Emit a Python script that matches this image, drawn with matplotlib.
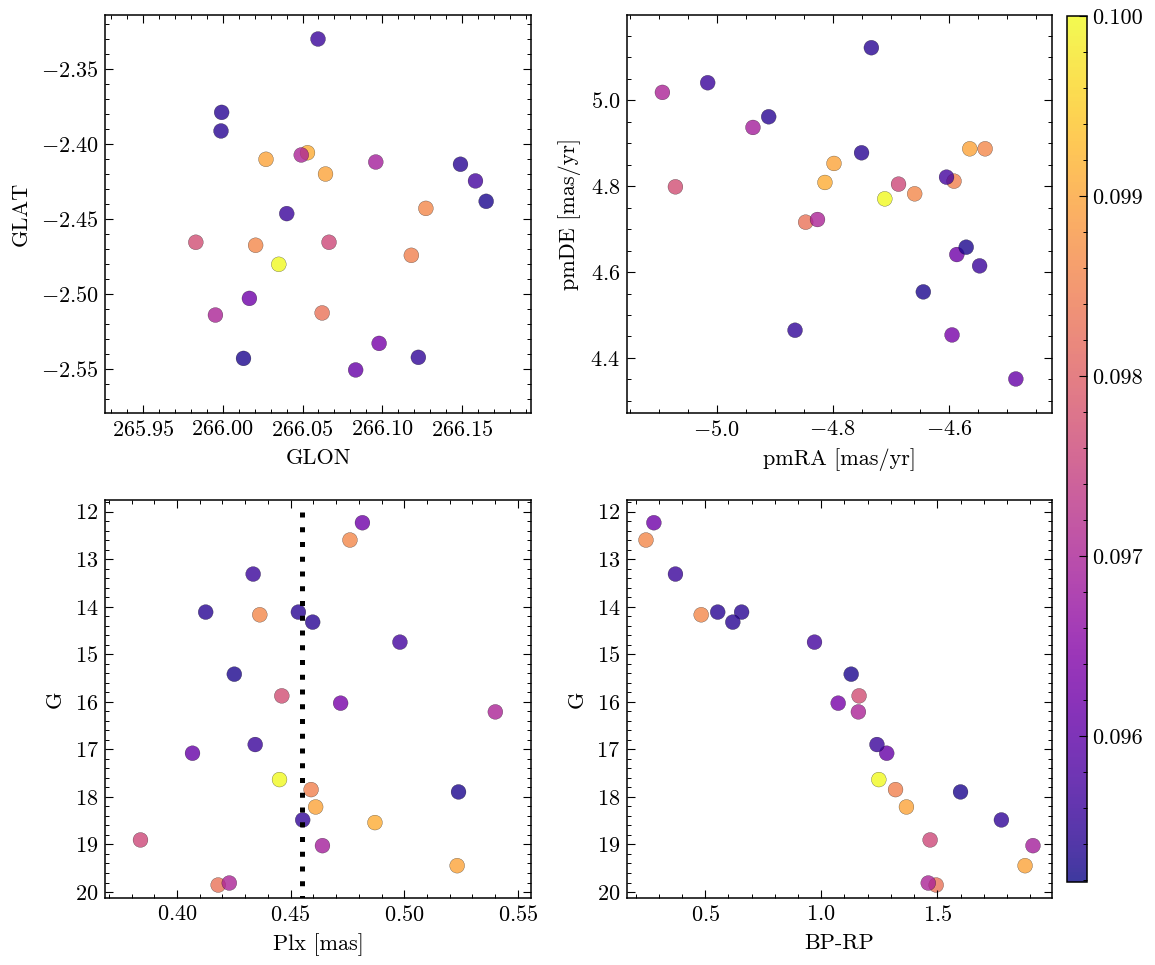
import numpy as np
import matplotlib
matplotlib.use("Agg")
import matplotlib.pyplot as plt
from matplotlib.ticker import AutoMinorLocator, FormatStrFormatter, MultipleLocator

plt.rcParams.update({
    "font.family": "serif",
    "font.serif": ["cmr10"],
    "mathtext.fontset": "cm",
    "axes.formatter.use_mathtext": True,
    "font.size": 16,
    "axes.labelsize": 16,
    "xtick.labelsize": 16,
    "ytick.labelsize": 16,
    "axes.linewidth": 1.1,
    "xtick.direction": "in",
    "ytick.direction": "in",
    "xtick.top": True,
    "ytick.right": True,
    "xtick.major.size": 6.0,
    "ytick.major.size": 6.0,
    "xtick.minor.size": 3.2,
    "ytick.minor.size": 3.2,
    "xtick.major.width": 0.8,
    "ytick.major.width": 0.8,
    "xtick.minor.width": 0.7,
    "ytick.minor.width": 0.7,
    "xtick.minor.visible": True,
    "ytick.minor.visible": True,
})

# one entry per star (yellow, orange, salmon, pink, magenta, purple, blue)
glon = [266.0351,
        266.0271, 266.0531, 266.0644,
        266.1273, 266.0206, 266.1182, 266.0623,
        265.9831, 266.0666,
        266.0492, 266.0959, 265.9954,
        266.0167, 266.0980, 266.0833,
        266.0597, 265.9993, 265.9989, 266.1490, 266.1584, 266.1651, 266.0401, 266.0130, 266.1226]
glat = [-2.4800,
        -2.4100, -2.4056, -2.4198,
        -2.4427, -2.4673, -2.4740, -2.5124,
        -2.4653, -2.4653,
        -2.4071, -2.4118, -2.5138,
        -2.5027, -2.5327, -2.5504,
        -2.3298, -2.3787, -2.3911, -2.4133, -2.4244, -2.4380, -2.4462, -2.5427, -2.5420]
pmra = [-4.7105,
        -4.7980, -4.8136, -4.5641,
        -4.5376, -4.6590, -4.5912, -4.8468,
        -5.0712, -4.6868,
        -5.0936, -4.9376, -4.8264,
        -4.5864, -4.5946, -4.4847,
        -5.0156, -4.9105, -4.7336, -4.7505, -4.6041, -4.5702, -4.5471, -4.6441, -4.8651]
pmde = [4.7707,
        4.8531, 4.8088, 4.8873,
        4.8873, 4.7824, 4.8119, 4.7163,
        4.7987, 4.8049,
        5.0187, 4.9370, 4.7225,
        4.6409, 4.4536, 4.3510,
        5.0412, 4.9619, 5.1228, 4.8780, 4.8212, 4.6580, 4.6145, 4.5539, 4.4645]
plx = [0.4451,
       0.4610, 0.4871, 0.5233,
       0.4761, 0.4364, 0.4590, 0.4181,
       0.4461, 0.3839,
       0.5401, 0.4640, 0.4230,
       0.4816, 0.4720, 0.4068,
       0.4335, 0.4126, 0.4534, 0.4597, 0.4981, 0.4252, 0.4344, 0.5239, 0.4553]
gmag = [17.635,
        18.211, 18.540, 19.446,
        12.596, 14.168, 17.846, 19.853,
        15.874, 18.905,
        16.211, 19.025, 19.811,
        12.232, 16.028, 17.081,
        13.312, 14.112, 14.112, 14.323, 14.744, 15.418, 16.898, 17.895, 18.484]
bp_rp = [1.248,
         1.367, np.nan, 1.878,
         0.245, 0.483, 1.320, 1.495,
         1.163, 1.469,
         1.160, 1.912, 1.461,
         0.279, 1.073, 1.282,
         0.372, 0.554, 0.657, 0.619, 0.971, 1.129, 1.240, 1.600, 1.776]
cval = [0.1000,
        0.0990, 0.0991, 0.0990,
        0.0986, 0.0986, 0.0985, 0.0983,
        0.0977, 0.0976,
        0.0970, 0.0969, 0.0970,
        0.0962, 0.0963, 0.0961,
        0.0956, 0.0954, 0.0954, 0.0954, 0.0957, 0.0953, 0.0956, 0.0953, 0.0955]

plx_mean = 0.455
vmin, vmax = 0.09519, 0.1

fig = plt.figure(figsize=(11.55, 9.65), dpi=100)
W, H = 1155, 965


def px_axes(x0, x1, y0, y1):
    return fig.add_axes([x0 / W, 1 - y1 / H, (x1 - x0) / W, (y1 - y0) / H])


ax1 = px_axes(105.5, 531, 15, 413)
ax2 = px_axes(627, 1052, 15, 413)
ax3 = px_axes(105.5, 531, 500, 898)
ax4 = px_axes(627, 1052, 500, 898)
cax = px_axes(1067, 1087, 16, 882)

kw = dict(c=cval, cmap="plasma", vmin=vmin, vmax=vmax, s=115, alpha=0.8,
          edgecolors="k", linewidths=0.2)

sc = ax1.scatter(glon, glat, **kw)
ax1.set_xlim(265.9265, 266.1932)
ax1.set_ylim(-2.5791, -2.3138)
ax1.xaxis.set_major_locator(MultipleLocator(0.05))
ax1.yaxis.set_major_locator(MultipleLocator(0.05))
ax1.set_xlabel("GLON")
ax1.set_ylabel("GLAT")

ax2.scatter(pmra, pmde, **kw)
ax2.set_xlim(-5.1546, -4.4224)
ax2.set_ylim(4.2717, 5.1990)
ax2.xaxis.set_major_locator(MultipleLocator(0.2))
ax2.yaxis.set_major_locator(MultipleLocator(0.2))
ax2.set_xlabel("pmRA [mas/yr]")
ax2.set_ylabel("pmDE [mas/yr]")

ax3.scatter(plx, gmag, **kw)
ax3.vlines(plx_mean, 12, 20.6, colors="k", linewidth=3.6,
           linestyles=(0, (1, 1.95)), zorder=3)
ax3.set_xlim(0.3685, 0.5558)
ax3.set_ylim(20.126, 11.754)
ax3.xaxis.set_major_locator(MultipleLocator(0.05))
ax3.yaxis.set_major_locator(MultipleLocator(1))
ax3.set_xlabel("Plx [mas]")
ax3.set_ylabel("G")

ax4.scatter(bp_rp, gmag, **kw)
ax4.set_xlim(0.1633, 1.994)
ax4.set_ylim(20.126, 11.754)
ax4.xaxis.set_major_locator(MultipleLocator(0.5))
ax4.yaxis.set_major_locator(MultipleLocator(1))
ax4.set_xlabel("BP-RP")
ax4.set_ylabel("G")

for ax in (ax1, ax2, ax3, ax4):
    ax.xaxis.set_minor_locator(AutoMinorLocator())
    ax.yaxis.set_minor_locator(AutoMinorLocator())
    ax.tick_params(which="major", pad=5)
    ax.xaxis.labelpad = 6
    ax.yaxis.labelpad = 7

cb = fig.colorbar(sc, cax=cax)
cb.set_ticks([0.096, 0.097, 0.098, 0.099, 0.100])
cb.ax.yaxis.set_major_formatter(FormatStrFormatter("%.3f"))
cb.ax.yaxis.set_minor_locator(AutoMinorLocator(5))
cb.ax.tick_params(which="both", direction="in")
cb.outline.set_linewidth(1.1)

fig.savefig("out.png", dpi=100)
